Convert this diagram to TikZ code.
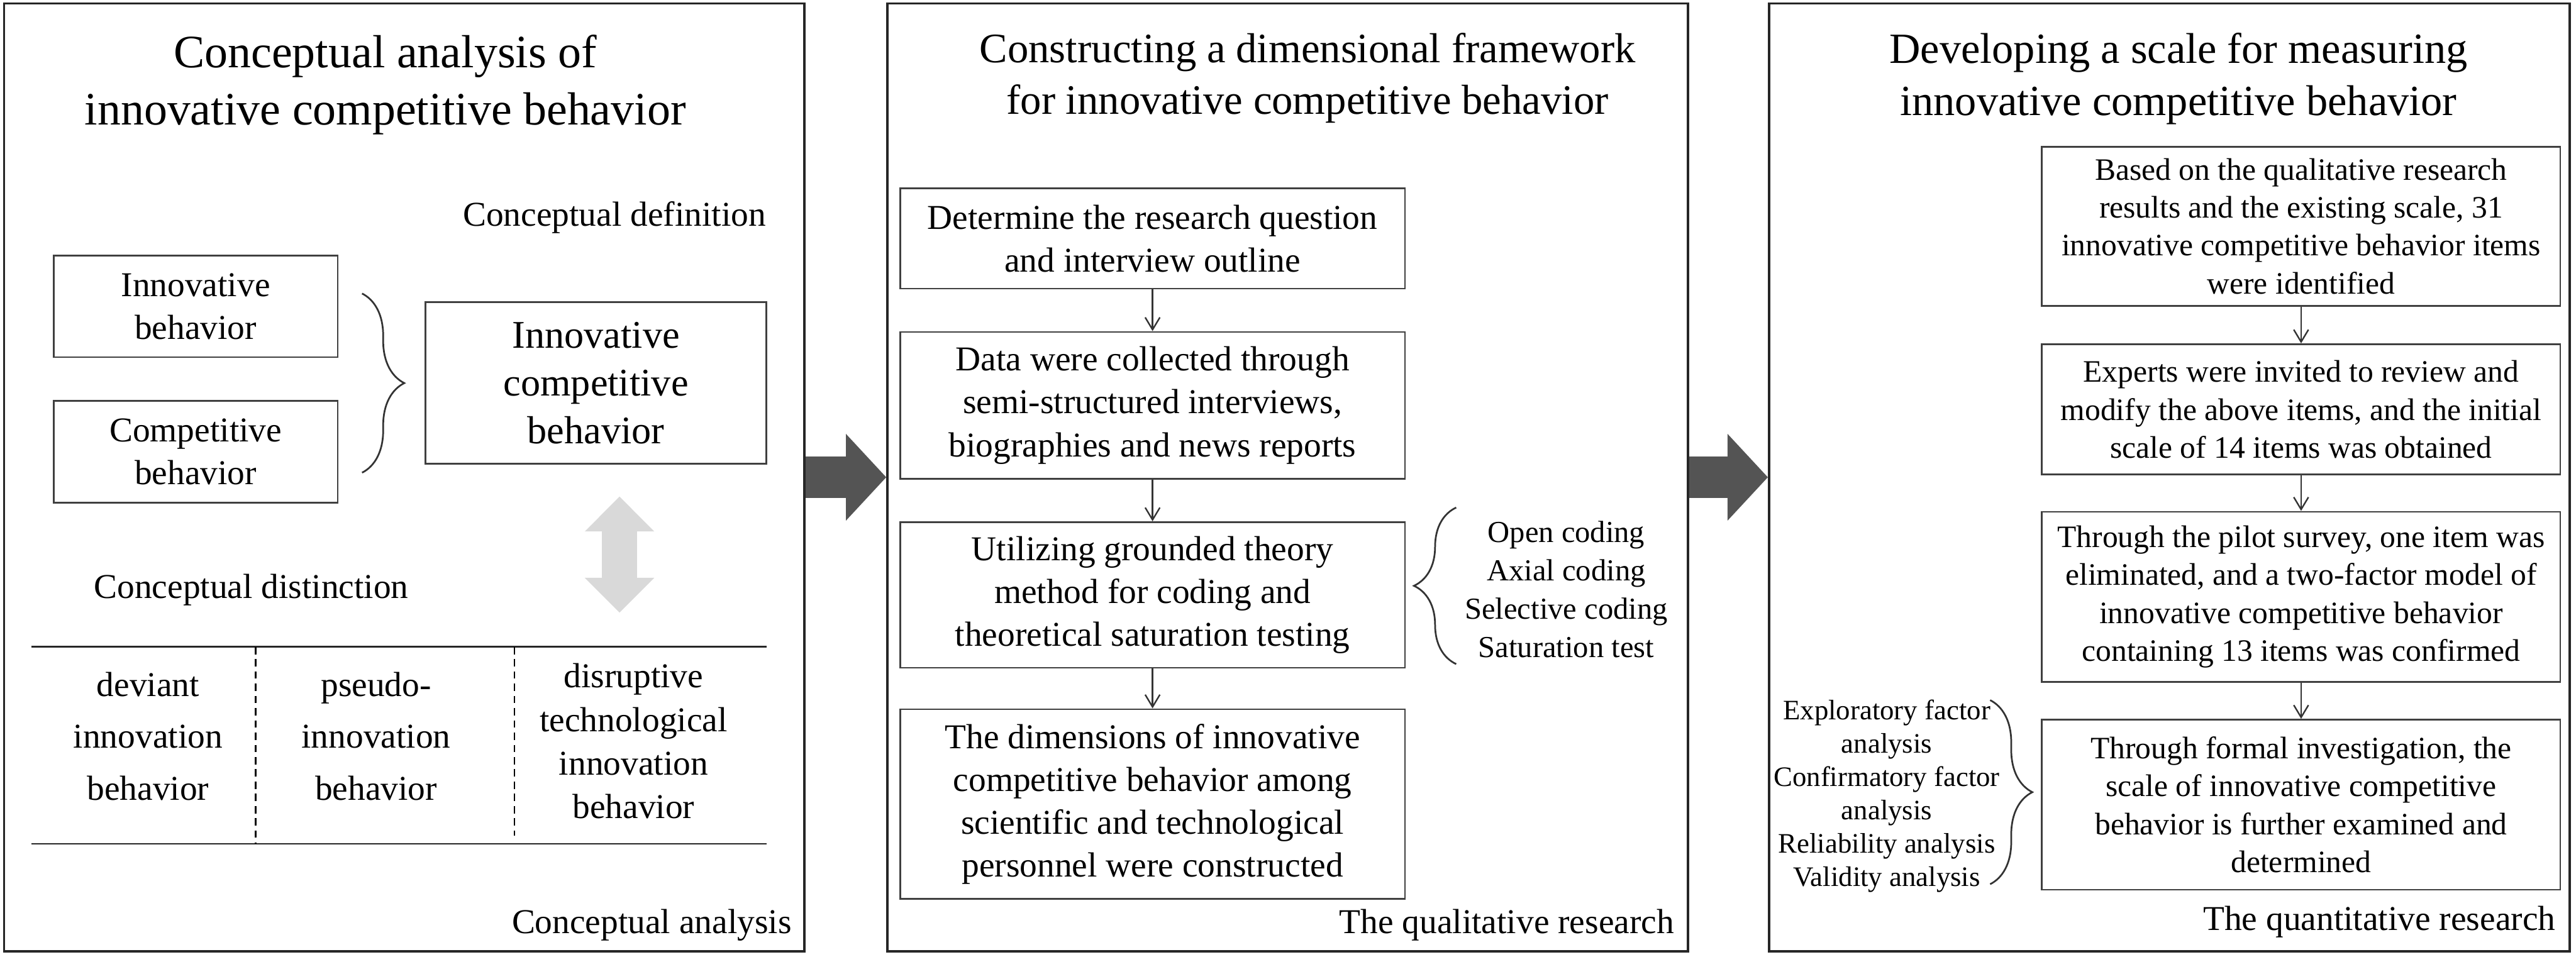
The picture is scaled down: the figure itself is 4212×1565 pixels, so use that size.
\documentclass[tikz,border=0pt]{standalone}
\usepackage{fontspec}
\setmainfont{Liberation Serif}
\usetikzlibrary{arrows.meta,positioning,decorations.pathreplacing}

\begin{document}
\begin{tikzpicture}[
  x=0.01cm, y=-0.01cm,
  panel/.style={draw=black!85, line width=1.1pt, minimum width=13.08cm, minimum height=15.49cm, inner sep=0pt},
  ttl/.style={align=center, inner sep=0pt, font=\fontsize{20}{24.2}\selectfont},
  lbl/.style={inner sep=0pt, font=\fontsize{16.2}{19.9}\selectfont},
  box/.style={draw=black!75, line width=0.8pt, align=center, inner sep=0pt, font=\fontsize{16.2}{19.9}\selectfont},
  qbox/.style={box, minimum width=8.25cm},
  sbox/.style={box, minimum width=8.47cm, font=\fontsize{14.5}{17.6}\selectfont},
  cell/.style={align=center, inner sep=0pt, font=\fontsize{16.2}{24.2}\selectfont},
  flow/.style={draw=black!80, line width=0.7pt, -{Straight Barb[length=2mm,width=2.4mm]}},
  brc/.style={decorate, decoration={brace, amplitude=0.69cm}, line width=0.8pt, draw=black!80},
  bigflow/.style={draw=black!67, line width=0.68cm, -{Triangle[length=0.66cm,width=1.38cm]}},
  twoway/.style={draw=black!15, line width=0.57cm, {Triangle[length=0.57cm,width=1.1cm]}-{Triangle[length=0.57cm,width=1.1cm]}}
]
\useasboundingbox (0,0) rectangle (4212,1565);

% three stages
\node[panel] (p1) at (661,780.5) {};
\node[panel] (p2) at (2105.5,780.5) {};
\node[panel] (p3) at (3547,780.5) {};
\node[ttl, font=\fontsize{21.6}{26.7}\selectfont] (t1) at (630,139) {Conceptual analysis of\\innovative competitive behavior};
\node[ttl, font=\fontsize{19.5}{24}\selectfont] (t2) at (2138,128) {Constructing a dimensional framework\\for innovative competitive behavior};
\node[ttl] (t3) at (3562,129) {Developing a scale for measuring\\innovative competitive behavior};

% conceptual analysis
\node[lbl, anchor=base east] (cdef) at (1253,370) {Conceptual definition};
\node[box, minimum width=4.64cm, minimum height=1.66cm] (ib) at (320,501) {Innovative\\behavior};
\node[box, minimum width=4.64cm, minimum height=1.66cm, below=0.69cm of ib] (cb) {Competitive\\behavior};
\node[box, minimum width=5.57cm, minimum height=2.64cm, font=\fontsize{18.2}{22.2}\selectfont] (icb) at (974.5,626) {Innovative\\competitive\\behavior};
\draw[brc] (592,480) -- (592,773);
\coordinate (dtop) at (1013,812);
\coordinate (dbot) at (1013,1002);
\draw[twoway] (dtop) -- (dbot);
\node[lbl, anchor=base west] (cdis) at (153,978) {Conceptual distinction};
\draw[line width=0.85pt, black!85] (51,1058) -- (1253,1058);
\draw[line width=0.85pt, black!85] (51,1380) -- (1253,1380);
\draw[line width=0.6pt, dash pattern=on 0.12cm off 0.08cm] (418,1058) -- (418,1380);
\draw[line width=0.6pt, dash pattern=on 0.12cm off 0.08cm] (841,1058) -- (841,1367);
\node[cell] (dev) at (242,1204) {deviant\\innovation\\behavior};
\node[cell] (pse) at (615,1204) {pseudo-\\innovation\\behavior};
\node[cell, font=\fontsize{16.2}{20.2}\selectfont] (dis) at (1036,1212) {disruptive\\technological\\innovation\\behavior};
\node[lbl, anchor=base east] (can) at (1295,1526) {Conceptual analysis};

% qualitative research
\node[qbox, minimum height=1.64cm] (q1) at (1884.5,390) {Determine the research question\\and interview outline};
\node[qbox, minimum height=2.40cm, below=0.68cm of q1] (q2) {Data were collected through\\semi-structured interviews,\\biographies and news reports};
\node[qbox, minimum height=2.38cm, below=0.68cm of q2] (q3) {Utilizing grounded theory\\method for coding and\\theoretical saturation testing};
\node[qbox, minimum height=3.10cm, below=0.65cm of q3] (q4) {The dimensions of innovative\\competitive behavior among\\scientific and technological\\personnel were constructed};
\draw[flow] (q1) -- (q2);
\draw[flow] (q2) -- (q3);
\draw[flow] (q3) -- (q4);
\draw[brc] (2381,1086) -- (2381,830);
\node[align=center, inner sep=0pt, font=\fontsize{14.2}{17.9}\selectfont] (codes) at (2561,964) {Open coding\\Axial coding\\Selective coding\\Saturation test};
\node[lbl, anchor=base east] (qual) at (2738,1526) {The qualitative research};

% quantitative research
\node[sbox, minimum height=2.60cm] (s1) at (3762.5,370) {Based on the qualitative research\\results and the existing scale, 31\\innovative competitive behavior items\\were identified};
\node[sbox, minimum height=2.13cm, below=0.60cm of s1] (s2) {Experts were invited to review and\\modify the above items, and the initial\\scale of 14 items was obtained};
\node[sbox, minimum height=2.78cm, below=0.58cm of s2] (s3) {Through the pilot survey, one item was\\eliminated, and a two-factor model of\\innovative competitive behavior\\containing 13 items was confirmed};
\node[sbox, minimum height=2.78cm, below=0.59cm of s3] (s4) {Through formal investigation, the\\scale of innovative competitive\\behavior is further examined and\\determined};
\draw[flow] (s1) -- (s2);
\draw[flow] (s2) -- (s3);
\draw[flow] (s3) -- (s4);
\draw[brc] (3254,1145) -- (3254,1446);
\node[align=center, inner sep=0pt, font=\fontsize{13.1}{15.5}\selectfont] (stats) at (3085,1302) {Exploratory factor\\analysis\\Confirmatory factor\\analysis\\Reliability analysis\\Validity analysis};
\node[lbl, anchor=base east] (quan) at (4179,1521) {The quantitative research};

% stage arrows
\draw[bigflow] (p1.east) -- (p2.west);
\draw[bigflow] (p2.east) -- (p3.west);
\end{tikzpicture}
\end{document}
